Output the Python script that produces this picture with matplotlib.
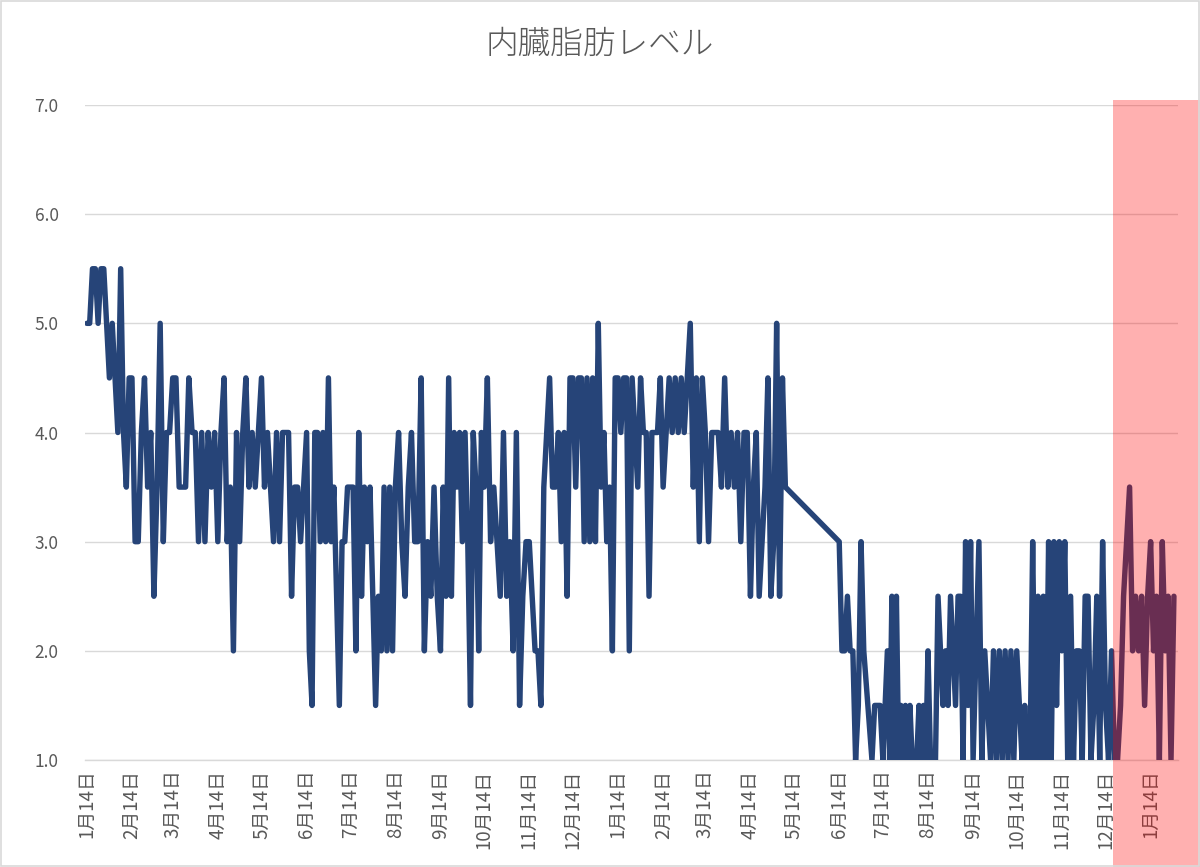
import matplotlib
matplotlib.use('Agg')
import matplotlib.pyplot as plt
import matplotlib.dates as mdates
from matplotlib.patches import Rectangle
import pandas as pd

plt.rcParams['font.family'] = ['Noto Sans CJK JP', 'DejaVu Sans']

title = '内臓脂肪レベル'

# month boundaries (14th of each month), last one is the final measurement day
month_edges = ['2019-01-14', '2019-02-14', '2019-03-14', '2019-04-14', '2019-05-14',
               '2019-06-14', '2019-07-14', '2019-08-14', '2019-09-14', '2019-10-14',
               '2019-11-14', '2019-12-14', '2020-01-14', '2020-02-14', '2020-03-14',
               '2020-04-14', '2020-05-14', '2020-06-14', '2020-07-14', '2020-08-14',
               '2020-09-14', '2020-10-14', '2020-11-14', '2020-12-14', '2021-01-14',
               '2021-02-01']

# readings inside each month, in order (None = no measurement)
levels_by_month = [
    [5.0, 5.0, 5.5, 5.5, 5.0, 5.5, 5.5, 5.0, 4.5, 5.0, 4.5, 4.0, 5.5, 4.0, 3.5, 4.5],
    [4.5, 3.0, 3.0, 4.0, 4.5, 3.5, 4.0, 2.5, 3.5, 5.0, 3.0, 4.0, 4.0],
    [4.5, 4.5, 3.5, 3.5, 3.5, 4.5, 4.0, 4.0, 3.0, 4.0, 3.0, 4.0, 3.5, 4.0],
    [3.0, 4.0, 4.5, 3.0, 3.5, 2.0, 4.0, 3.0, 4.0, 4.5, 3.5, 4.0, 3.5, 4.0],
    [4.5, 3.5, 4.0, 3.5, 3.0, 4.0, 3.0, 4.0, 4.0, 4.0, 2.5, 3.5, 3.5, 3.0, 3.5],
    [4.0, 2.0, 1.5, 4.0, 4.0, 3.0, 4.0, 3.0, 4.5, 3.0, 3.5, 2.5, 1.5, 3.0, 3.0, 3.5],
    [3.5, 3.5, 2.0, 4.0, 2.5, 3.5, 3.0, 3.5, 2.5, 1.5, 2.5, 2.0, 3.5, 2.0, 3.5, 2.0],
    [3.5, 4.0, 3.0, 2.5, 3.5, 4.0, 3.0, 3.0, 4.5, 2.0, 3.0, 2.5, 3.5, 2.5],
    [2.0, 3.5, 2.5, 4.5, 2.5, 4.0, 3.5, 4.0, 3.0, 4.0, 3.0, 1.5, 4.0, 3.5, 2.0, 4.0],
    [3.5, 4.5, 3.0, 3.5, 3.0, 2.5, 4.0, 2.5, 3.0, 2.0, 4.0, 1.5, 2.5, 3.0],
    [3.0, 2.5, 2.0, 2.0, 1.5, 3.5, 4.0, 4.5, 3.5, 3.5, 4.0, 3.0, 4.0, 2.5, 4.5],
    [4.5, 3.5, 4.5, 4.5, 3.0, 4.5, 3.0, 4.5, 3.0, 5.0, 3.5, 4.0, 3.0, 3.5, 2.0, 4.5],
    [4.5, 4.0, 4.5, 4.5, 2.0, 4.5, 4.0, 3.5, 4.5, 4.0, 4.0, 2.5, 4.0, 4.0, 4.0, 4.5],
    [3.5, 4.0, 4.5, 4.0, 4.5, 4.0, 4.5, 4.0, 4.5, 5.0, 3.5, 4.5, 3.0, 4.5],
    [4.0, 3.0, 4.0, 4.0, 4.0, 3.5, 4.5, 3.5, 4.0, 3.5, 4.0, 3.0, 4.0, 4.0],
    [2.5, 3.5, 4.0, 2.5, 3.0, 3.5, 4.5, 2.5, 3.0, 5.0, 2.5, 4.5, 3.5, None, None],
    [],
    [3.0, 2.0, 2.0, 2.5, 2.0, 2.0, 1.0, 1.5, 3.0, 2.0, None, None, 1.0, 1.5, 1.5, 1.5],
    [1.0, 1.5, 2.0, 1.0, 2.5, 1.0, 2.5, 1.0, 1.5, 1.0, 1.5, 1.0, 1.5, 1.0, 1.0, 1.0,
     1.5, 1.0, 1.5, 1.0],
    [2.0, 1.0, 1.0, 1.0, 2.5, 2.0, 1.5, 2.0, 1.5, 2.5, 2.0, 1.5, 2.5, 2.5, 1.0, 3.0,
     1.5, 3.0],
    [1.0, 2.0, 3.0, 1.0, 2.0, 1.5, 1.0, 2.0, 1.0, 2.0, 1.0, 2.0, 1.0, 2.0, 1.0],
    [2.0, 1.5, 1.0, 1.5, 1.0, 1.0, 3.0, 1.0, 2.5, 1.0, 2.5, 1.0, 3.0, 1.0, 3.0, 1.5, 3.0],
    [2.0, 3.0, 1.0, 2.5, 1.0, 2.0, 2.0, 1.0, 2.5, 2.5, 1.0, 1.5, 2.5, 1.0, 3.0],
    [1.5, 1.0, 2.0, 1.0, 1.0, 1.5, 2.5, 3.0, 3.5, 2.0, 2.5, 2.0, 2.5, 1.5, 2.5],
    [3.0, 2.0, 2.5, 1.0, 3.0, 2.0, 2.5, 1.0, 2.5],
]

highlight_start = '2020-12-19'  # period marked in red

y_ticks = [1.0, 2.0, 3.0, 4.0, 5.0, 6.0, 7.0]

# build the date/value series
edges = pd.to_datetime(month_edges)
dates = []
values = []
for i, vals in enumerate(levels_by_month):
    a, b = edges[i], edges[i + 1]
    n = len(vals)
    for k, v in enumerate(vals):
        if v is None:
            continue
        dates.append(a + (b - a) * k / n)
        values.append(v)

fig = plt.figure(figsize=(12, 8.67), dpi=100)
ax = fig.add_axes([0.0708, 0.1234, 0.9105, 0.7555])

ax.plot(dates, values, color='#264478', lw=3.9,
        solid_joinstyle='round', solid_capstyle='round', zorder=3)

ax.set_ylim(1, 7)
ax.set_yticks(y_ticks)
ax.set_yticklabels([f'{t:.1f}' for t in y_ticks])
ax.set_xlim(edges[0] - pd.Timedelta(days=1.3), edges[-1] + pd.Timedelta(days=0.5))

tick_dates = edges[:-1]
ax.set_xticks(tick_dates)
ax.set_xticklabels([f'{d.month}月{d.day}日' for d in tick_dates], rotation=90)

ax.grid(axis='y', color='#D9D9D9', lw=1.0)
ax.set_axisbelow(True)
for s in ['top', 'right', 'left']:
    ax.spines[s].set_visible(False)
ax.spines['bottom'].set_color('#D9D9D9')
ax.spines['bottom'].set_linewidth(1.0)
ax.tick_params(axis='both', length=0, colors='#595959')
ax.tick_params(axis='y', pad=19, labelsize=12.5)
ax.tick_params(axis='x', pad=7, labelsize=13.5)

fig.suptitle(title, x=0.5, y=0.968, fontsize=23.5, color='#595959', fontweight='light')

# red overlay for the latest period, reaching over the axis labels
x0 = ax.transData.transform((mdates.date2num(pd.Timestamp(highlight_start)), 0))[0]
x0_fig = fig.transFigure.inverted().transform((x0, 0))[0]
fig.add_artist(Rectangle((x0_fig, 0), 1 - x0_fig, 1 - 100 / 867,
                         transform=fig.transFigure, facecolor='#FF0000',
                         alpha=0.31, edgecolor='none', zorder=10))

# chart border
fig.add_artist(Rectangle((0.001, 0.001), 0.998, 0.998, transform=fig.transFigure,
                         facecolor='none', edgecolor='#D9D9D9', lw=1.2, zorder=11))

fig.savefig('out.png', dpi=100)
